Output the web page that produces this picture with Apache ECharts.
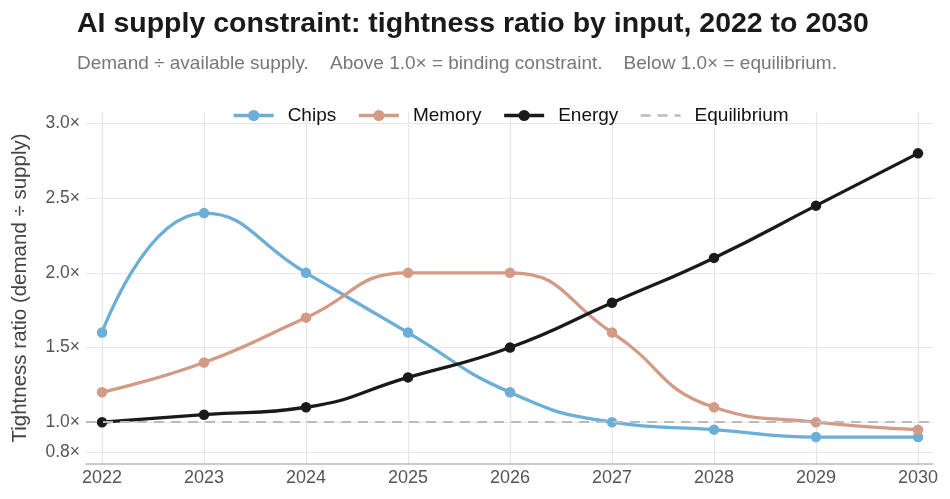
<!DOCTYPE html>
<html>
<head>
<meta charset="utf-8">
<script src="https://cdn.jsdelivr.net/npm/echarts@6/dist/echarts.min.js"></script>
<style>
  html, body { margin: 0; padding: 0; background: #fff; }
  #chart { width: 950px; height: 499px; }
</style>
</head>
<body>
<div id="chart"></div>
<script>
// values
const years = [2022, 2023, 2024, 2025, 2026, 2027, 2028, 2029, 2030];
const chips = [1.6, 2.4, 2.0, 1.6, 1.2, 1.0, 0.95, 0.9, 0.9];
const memory = [1.2, 1.4, 1.7, 2.0, 2.0, 1.6, 1.1, 1.0, 0.95];
const energy = [1.0, 1.05, 1.1, 1.3, 1.5, 1.8, 2.1, 2.45, 2.8];
const equilibrium = 1.0;
const yTicks = [0.8, 1.0, 1.5, 2.0, 2.5, 3.0];

const font = "'Liberation Sans', Arial, sans-serif";

const pair = (vals) => years.map((y, i) => [y, vals[i]]);

function lineSeries(name, color, vals) {
  return {
    name: name,
    type: 'line',
    data: pair(vals),
    smooth: 0.5,
    symbol: 'circle',
    symbolSize: 10.5,
    lineStyle: { color: color, width: 3.3 },
    itemStyle: { color: color },
    emphasis: { disabled: true }
  };
}

const chart = echarts.init(document.getElementById('chart'));
chart.setOption({
  animation: false,
  textStyle: { fontFamily: font },
  title: {
    text: 'AI supply constraint: tightness ratio by input, 2022 to 2030',
    subtext: 'Demand \u00f7 available supply.    Above 1.0\u00d7 = binding constraint.    Below 1.0\u00d7 = equilibrium.',
    left: 72,
    top: 5,
    itemGap: 15,
    textStyle: { fontSize: 28.5, fontWeight: 'bold', color: '#1a1a1a', fontFamily: font },
    subtextStyle: { fontSize: 19, color: '#777', fontFamily: font }
  },
  legend: {
    top: 101,
    left: 227,
    itemWidth: 40,
    itemHeight: 14,
    itemGap: 21,
    textStyle: { fontSize: 19, color: '#111', padding: [0, 0, 0, 9] },
    data: [
      { name: 'Chips', lineStyle: { width: 3.3 } },
      { name: 'Memory', lineStyle: { width: 3.3 } },
      { name: 'Energy', lineStyle: { width: 3.3 } },
      { name: 'Equilibrium', itemStyle: { opacity: 0 }, lineStyle: { width: 2.5 } }
    ]
  },
  grid: { left: 86, right: 17, top: 112, bottom: 35 },
  xAxis: {
    type: 'value',
    min: 2021.843,
    max: 2030.147,
    axisLine: { show: true, lineStyle: { color: '#bbb', width: 1.5 } },
    axisTick: { show: false, customValues: years },
    axisLabel: { customValues: years, fontSize: 18, color: '#555', margin: 5, formatter: (v) => String(v) },
    splitLine: { show: true, lineStyle: { color: '#e6e6e6', width: 1.2 } }
  },
  yAxis: {
    type: 'value',
    min: 0.72,
    max: 3.077,
    name: 'Tightness ratio (demand \u00f7 supply)',
    nameLocation: 'middle',
    nameGap: 55,
    nameTextStyle: { fontSize: 20.5, color: '#444' },
    axisLine: { show: false },
    axisTick: { show: false, customValues: yTicks },
    axisLabel: { customValues: yTicks, fontSize: 17.5, color: '#555', margin: 6, formatter: (v) => v.toFixed(1) + '\u00d7' },
    splitLine: { show: true, lineStyle: { color: '#e6e6e6', width: 1.2 } }
  },
  series: [
    {
      name: 'Equilibrium',
      type: 'line',
      data: [],
      symbol: 'none',
      lineStyle: { color: '#bbbbbb', width: 2, type: [10, 7] },
      itemStyle: { color: '#bbbbbb' },
      markLine: {
        silent: true,
        symbol: 'none',
        label: { show: false },
        lineStyle: { color: '#bbbbbb', width: 2, type: [10, 7] },
        data: [{ yAxis: equilibrium }]
      }
    },
    lineSeries('Chips', '#6baed6', chips),
    lineSeries('Memory', '#d39a86', memory),
    lineSeries('Energy', '#1a1a1a', energy)
  ]
});
</script>
</body>
</html>
